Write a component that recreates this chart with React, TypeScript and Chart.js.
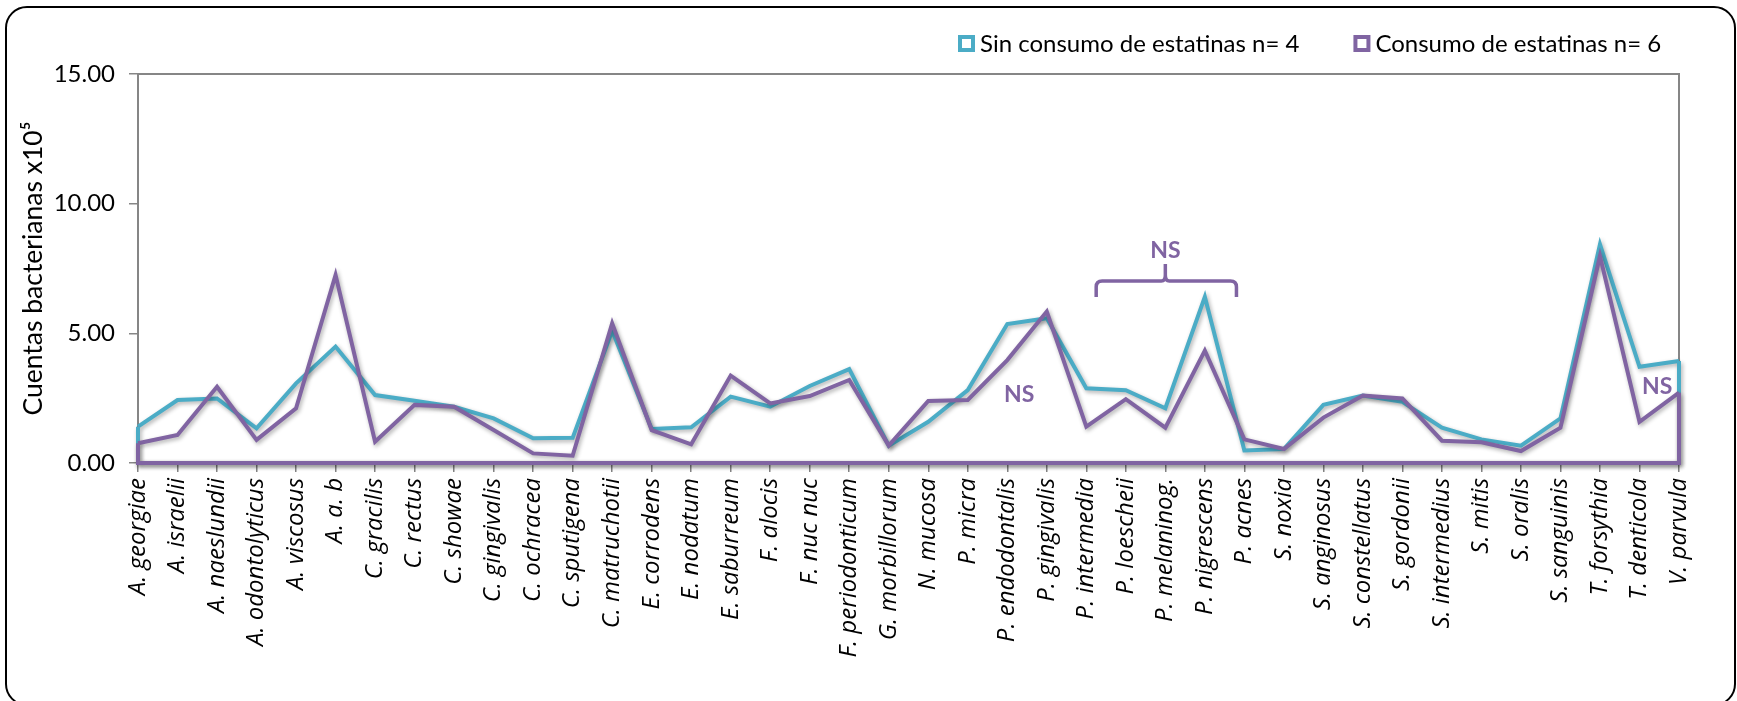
import React, { useEffect, useRef } from "react";
import { Chart, registerables } from "chart.js";

Chart.register(...registerables);

// Bacterial species on the x axis
const species = [
  "A. georgiae", "A. israelii", "A. naeslundii", "A. odontolyticus", "A. viscosus",
  "A. a. b", "C. gracilis", "C. rectus", "C. showae", "C. gingivalis",
  "C. ochracea", "C. sputigena", "C. matruchotii", "E. corrodens", "E. nodatum",
  "E. saburreum", "F. alocis", "F. nuc nuc", "F. periodonticum", "G. morbillorum",
  "N. mucosa", "P. micra", "P. endodontalis", "P. gingivalis", "P. intermedia",
  "P. loescheii", "P. melaninog.", "P. nigrescens", "P. acnes", "S. noxia",
  "S. anginosus", "S. constellatus", "S. gordonii", "S. intermedius", "S. mitis",
  "S. oralis", "S. sanguinis", "T. forsythia", "T. denticola", "V. parvula",
];

// Mean counts (x10^5) per group
const sinEstatinas = [
  1.40, 2.43, 2.49, 1.34, 3.07, 4.49, 2.62, 2.40, 2.17, 1.72,
  0.95, 0.97, 5.10, 1.31, 1.38, 2.56, 2.17, 2.97, 3.62, 0.67,
  1.59, 2.81, 5.36, 5.58, 2.88, 2.81, 2.11, 6.41, 0.48, 0.54,
  2.24, 2.60, 2.36, 1.36, 0.91, 0.67, 1.72, 8.43, 3.71, 3.93,
];
const conEstatinas = [
  0.76, 1.08, 2.94, 0.89, 2.11, 7.25, 0.82, 2.24, 2.17, 1.27,
  0.37, 0.28, 5.39, 1.27, 0.72, 3.37, 2.30, 2.58, 3.20, 0.67,
  2.39, 2.43, 3.97, 5.84, 1.40, 2.46, 1.36, 4.33, 0.91, 0.54,
  1.75, 2.60, 2.49, 0.86, 0.80, 0.46, 1.36, 7.98, 1.59, 2.71,
];

const seriesNames = ["Sin consumo de estatinas n= 4", "Consumo de estatinas n= 6"];
const seriesColors = ["#4BACC6", "#8064A2"];

const yMin = 0;
const yMax = 15;
const yStep = 5;

// "NS" notes, anchored in data units (category index, value)
const nsNotes = [
  { at: 22.3, value: 2.62 },
  { at: 26.0, value: 8.2 },
  { at: 38.45, value: 2.95 },
];
// Brace grouping P. intermedia .. P. nigrescens
const nsBrace = { from: 24.25, to: 27.8, mid: 26.0, value: 7.02 };

const AXIS_GRAY = "#868686";
const FONT = "Lato";
const LINE_W = 4;

const outlinePlugin = {
  id: "areaOutline",
  beforeDatasetsDraw(chart: any) {
    const { ctx, chartArea: a } = chart;
    ctx.save();
    ctx.strokeStyle = AXIS_GRAY;
    ctx.lineWidth = 2;
    ctx.beginPath();
    ctx.moveTo(a.left, a.bottom);
    ctx.lineTo(a.left, a.top);
    ctx.lineTo(a.right, a.top);
    ctx.lineTo(a.right, a.bottom);
    ctx.stroke();
    ctx.restore();
  },
  beforeDatasetDraw(chart: any) {
    const ctx = chart.ctx;
    ctx.save();
    ctx.shadowColor = "rgba(0,0,0,0.32)";
    ctx.shadowBlur = 4;
    ctx.shadowOffsetX = 1.5;
    ctx.shadowOffsetY = 2;
  },
  afterDatasetDraw(chart: any, args: any) {
    const ctx = chart.ctx;
    const pts = args.meta.data;
    const ds = chart.data.datasets[args.index];
    if (pts.length) {
      const base = chart.scales.y.getPixelForValue(0);
      const first = pts[0];
      const last = pts[pts.length - 1];
      ctx.strokeStyle = ds.borderColor;
      ctx.lineWidth = ds.borderWidth;
      ctx.lineJoin = "miter";
      ctx.beginPath();
      ctx.moveTo(first.x, first.y);
      ctx.lineTo(first.x, base);
      ctx.lineTo(last.x, base);
      ctx.lineTo(last.x, last.y);
      ctx.stroke();
    }
    ctx.restore();
  },
  afterDraw(chart: any) {
    const { ctx, scales } = chart;
    const xs = scales.x;
    const ys = scales.y;
    const xAt = (i: number) => {
      const lo = Math.floor(i);
      const hi = Math.min(lo + 1, species.length - 1);
      const p0 = xs.getPixelForValue(lo);
      const p1 = xs.getPixelForValue(hi);
      return p0 + (p1 - p0) * (i - lo);
    };
    const purple = seriesColors[1];

    // legend
    ctx.save();
    ctx.font = `24px ${FONT}`;
    ctx.textBaseline = "middle";
    let x = 958;
    const cy = 43;
    chart.data.datasets.forEach((ds: any) => {
      ctx.fillStyle = "#fff";
      ctx.strokeStyle = ds.borderColor;
      ctx.lineWidth = 4;
      ctx.fillRect(x + 2, cy - 6, 13, 13);
      ctx.strokeRect(x + 2, cy - 6, 13, 13);
      ctx.fillStyle = "#000";
      ctx.textAlign = "left";
      ctx.fillText(ds.label, x + 22, cy + 1);
      x += 22 + ctx.measureText(ds.label).width + 54;
    });
    ctx.restore();

    // NS notes
    ctx.save();
    ctx.fillStyle = purple;
    ctx.font = `bold 23px ${FONT}`;
    ctx.textAlign = "center";
    ctx.textBaseline = "middle";
    nsNotes.forEach((n) => ctx.fillText("NS", xAt(n.at), ys.getPixelForValue(n.value)));

    // brace
    const bx1 = xAt(nsBrace.from);
    const bx2 = xAt(nsBrace.to);
    const bm = xAt(nsBrace.mid);
    const by = ys.getPixelForValue(nsBrace.value);
    const r = 6;
    ctx.strokeStyle = purple;
    ctx.lineWidth = 3.5;
    ctx.lineCap = "butt";
    ctx.beginPath();
    ctx.moveTo(bx1, by + 16);
    ctx.lineTo(bx1, by + r);
    ctx.quadraticCurveTo(bx1, by, bx1 + r, by);
    ctx.lineTo(bm - 4, by);
    ctx.quadraticCurveTo(bm, by, bm, by - 6);
    ctx.lineTo(bm, by - 17);
    ctx.moveTo(bm, by - 6);
    ctx.quadraticCurveTo(bm, by, bm + 4, by);
    ctx.lineTo(bx2 - r, by);
    ctx.quadraticCurveTo(bx2, by, bx2, by + r);
    ctx.lineTo(bx2, by + 16);
    ctx.stroke();
    ctx.restore();
  },
};

export default function App() {
  const ref = useRef<HTMLCanvasElement>(null);

  useEffect(() => {
    document.body.style.margin = "0";
    let chart: Chart | null = null;
    let cancelled = false;
    const fontsReady = (document as any).fonts
      ? Promise.all([
          (document as any).fonts.load(`24px ${FONT}`),
          (document as any).fonts.load(`bold 23px ${FONT}`),
          (document as any).fonts.load(`italic 24px "Open Sans"`),
        ]).catch(() => null)
      : Promise.resolve(null);

    fontsReady.then(() => {
      if (cancelled || !ref.current) return;
      chart = new Chart(ref.current, {
        type: "line",
        data: {
          labels: species,
          datasets: [
            {
              label: seriesNames[0],
              data: sinEstatinas,
              borderColor: seriesColors[0],
              backgroundColor: seriesColors[0],
              borderWidth: LINE_W,
              pointRadius: 0,
              tension: 0,
              order: 1,
            },
            {
              label: seriesNames[1],
              data: conEstatinas,
              borderColor: seriesColors[1],
              backgroundColor: seriesColors[1],
              borderWidth: LINE_W,
              pointRadius: 0,
              tension: 0,
              order: 0,
            },
          ],
        },
        options: {
          responsive: false,
          animation: false,
          devicePixelRatio: 1,
          layout: { padding: { top: 74, left: 0, right: 58, bottom: 0 } },
          plugins: {
            legend: { display: false },
            tooltip: { enabled: false },
          },
          scales: {
            x: {
              type: "category",
              offset: false,
              grid: {
                display: true,
                drawOnChartArea: false,
                drawTicks: true,
                tickLength: 9,
                color: AXIS_GRAY,
                lineWidth: 1.5,
              },
              border: { color: AXIS_GRAY, width: 2 },
              ticks: {
                autoSkip: false,
                maxRotation: 90,
                minRotation: 90,
                padding: 6,
                color: "#000",
                font: { family: "Open Sans", style: "italic", size: 24 },
              },
              afterFit: (s: any) => {
                s.height = 238;
              },
            },
            y: {
              min: yMin,
              max: yMax,
              ticks: {
                stepSize: yStep,
                padding: 14,
                color: "#000",
                font: { family: FONT, size: 24 },
                callback: (v: any) => Number(v).toFixed(2),
              },
              grid: {
                drawOnChartArea: false,
                tickLength: 9,
                color: AXIS_GRAY,
                lineWidth: 1.5,
              },
              border: { color: AXIS_GRAY, width: 2 },
              title: {
                display: true,
                text: "Cuentas bacterianas x10\u2075",
                color: "#000",
                font: { family: FONT, size: 26.5 },
                padding: { top: 18, bottom: 0 },
              },
              afterFit: (s: any) => {
                s.width = 138;
              },
            },
          },
        },
        plugins: [outlinePlugin],
      });
    });

    return () => {
      cancelled = true;
      if (chart) chart.destroy();
    };
  }, []);

  return (
    <div style={{ position: "relative", width: 1737, height: 701, background: "#fff", overflow: "hidden" }}>
      <canvas ref={ref} width={1737} height={701} style={{ position: "absolute", left: 0, top: 0 }} />
      <div
        style={{
          position: "absolute",
          left: 5,
          top: 6,
          width: 1731,
          height: 700,
          border: "2px solid #000",
          borderRadius: 22,
          boxSizing: "border-box",
          pointerEvents: "none",
        }}
      />
    </div>
  );
}
